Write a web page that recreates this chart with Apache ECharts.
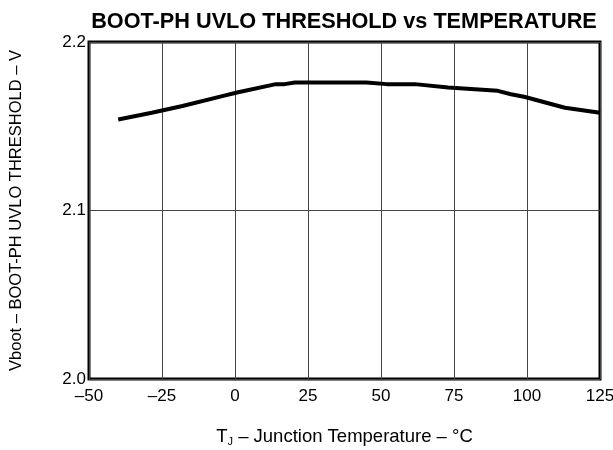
<!DOCTYPE html>
<html>
<head>
<meta charset="utf-8">
<script src="https://cdn.jsdelivr.net/npm/echarts@6/dist/echarts.min.js"></script>
<style>html,body{margin:0;padding:0;background:#fff}#c{width:613px;height:450px}</style>
</head>
<body>
<div id="c"></div>
<script>
const temperature = [-40, -28.5, -18, -4, 0.7, 14, 17, 20.5, 45, 52, 61.6, 73, 90, 94.5, 99, 113, 125];
const threshold = [2.154, 2.158, 2.162, 2.168, 2.170, 2.175, 2.175, 2.176, 2.176, 2.175, 2.175, 2.173, 2.171, 2.169, 2.1675, 2.161, 2.158];
const xTicks = { min: -50, max: 125, interval: 25 };
const yTicks = { min: 2.0, max: 2.2, interval: 0.1 };

const font = "'Liberation Sans', Arial, Helvetica, sans-serif";
const chart = echarts.init(document.getElementById('c'), null, { renderer: 'canvas' });
chart.setOption({
  animation: false,
  backgroundColor: '#fff',
  title: {
    text: 'BOOT-PH UVLO THRESHOLD vs TEMPERATURE',
    left: 339, top: 6, textAlign: 'center',
    textStyle: { fontFamily: font, fontSize: 21.7, fontWeight: 'bold', color: '#000' }
  },
  grid: { left: 89, right: 13, top: 42, bottom: 71, show: true, borderColor: '#000', borderWidth: 3,
    backgroundColor: 'transparent', outerBoundsMode: 'none', containLabel: false },
  xAxis: {
    type: 'value', min: xTicks.min, max: xTicks.max, interval: xTicks.interval,
    axisLine: { show: false }, axisTick: { show: false },
    splitLine: { show: true, lineStyle: { color: '#444', width: 1 } },
    axisLabel: { fontFamily: font, fontSize: 17, color: '#000', margin: 9,
      formatter: v => String(v).replace('-', '\u2013') },
    name: '{t|T}{s|J}{t| \u2013 Junction Temperature \u2013 \u00b0C}',
    nameLocation: 'middle', nameGap: 48,
    nameTextStyle: { rich: {
      t: { fontFamily: font, fontSize: 18.5, color: '#000' },
      s: { fontFamily: font, fontSize: 11, color: '#000', verticalAlign: 'bottom', padding: [9, 0, 0, 0] }
    } }
  },
  yAxis: {
    type: 'value', min: yTicks.min, max: yTicks.max, interval: yTicks.interval,
    axisLine: { show: false }, axisTick: { show: false },
    splitLine: { show: true, lineStyle: { color: '#444', width: 1 } },
    axisLabel: { fontFamily: font, fontSize: 17, color: '#000', margin: 3, formatter: v => v.toFixed(1) },
    name: 'Vboot \u2013 BOOT-PH UVLO THRESHOLD \u2013 V',
    nameLocation: 'middle', nameGap: 64, nameRotate: 90,
    nameTextStyle: { fontFamily: font, fontSize: 16.5, color: '#000' }
  },
  series: [{
    type: 'line', data: temperature.map((t, i) => [t, threshold[i]]),
    showSymbol: false, lineStyle: { color: '#000', width: 4 }, z: 3
  }]
});
</script>
</body>
</html>
